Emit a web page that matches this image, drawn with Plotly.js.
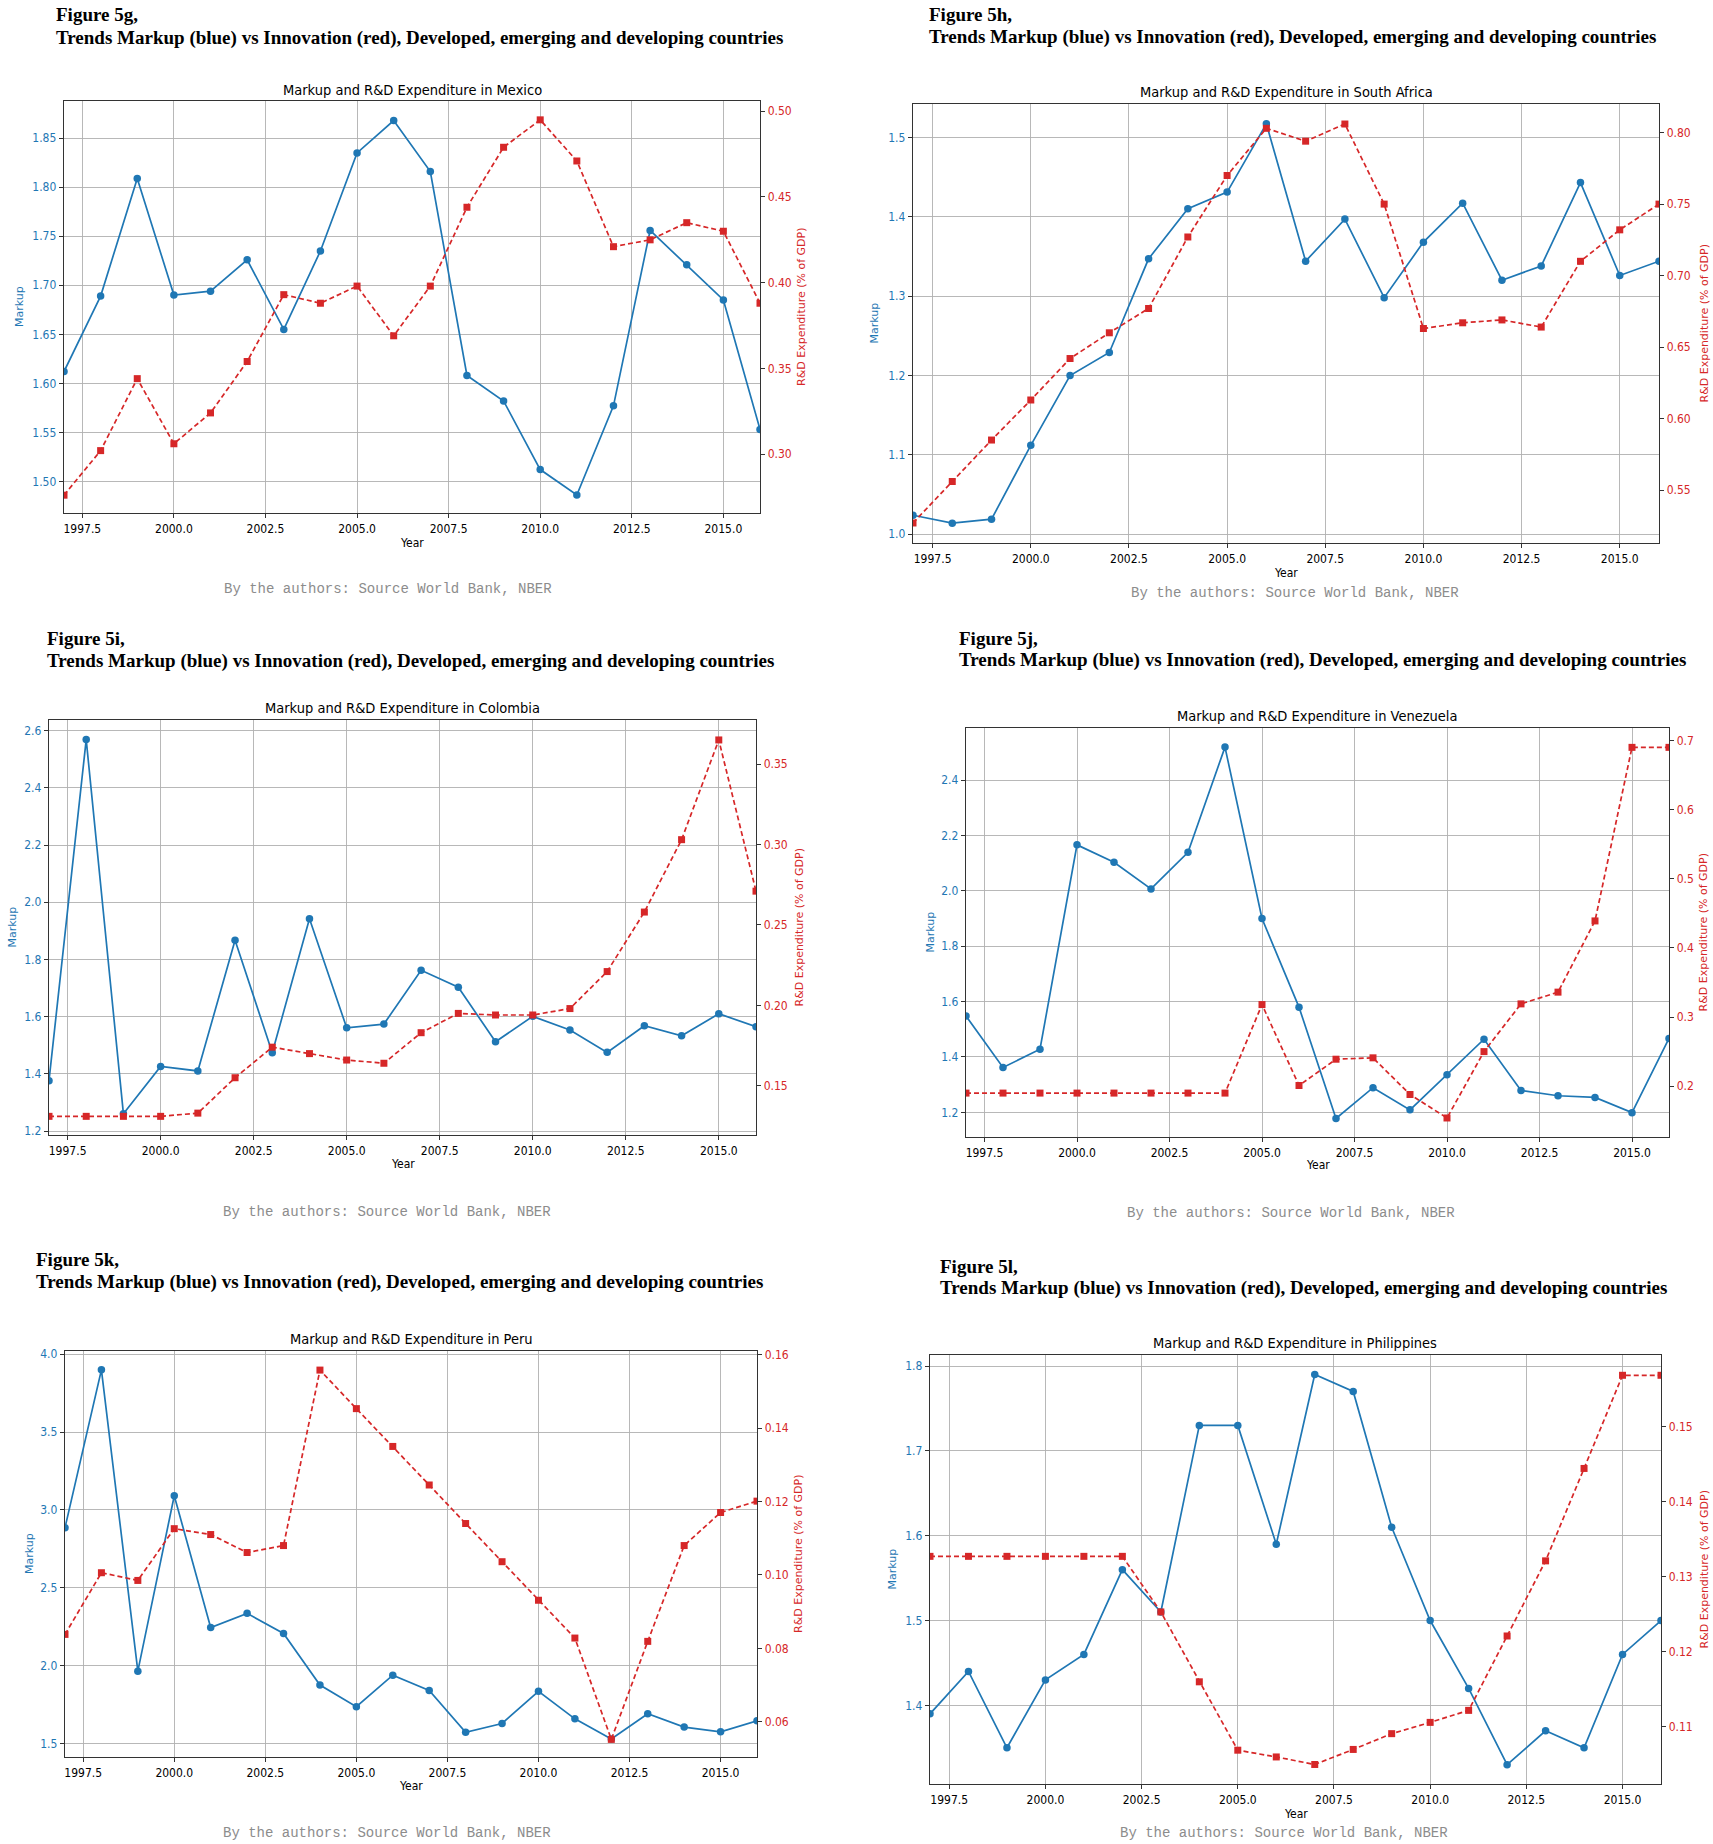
<!DOCTYPE html>
<html>
<head>
<meta charset="utf-8">
<script src="https://cdn.plot.ly/plotly-3.0.1.min.js"></script>
<style>
  body { margin: 0; background: #fff; }
  #graph { width: 1713px; height: 1844px; }
</style>
</head>
<body>
<div id="graph"></div>
<script>
var years = [1997, 1998, 1999, 2000, 2001, 2002, 2003, 2004, 2005, 2006,
             2007, 2008, 2009, 2010, 2011, 2012, 2013, 2014, 2015, 2016];

var markupMexico = [1.612, 1.689, 1.809, 1.690, 1.694, 1.726, 1.655, 1.735, 1.835, 1.868,
                    1.816, 1.608, 1.582, 1.512, 1.486, 1.577, 1.756, 1.721, 1.685, 1.553];
var rdMexico = [0.276, 0.302, 0.344, 0.306, 0.324, 0.354, 0.393, 0.388, 0.398, 0.369,
                0.398, 0.444, 0.479, 0.495, 0.471, 0.421, 0.425, 0.435, 0.430, 0.388];

var markupSouthAfrica = [1.024, 1.014, 1.019, 1.112, 1.200, 1.229, 1.347, 1.410, 1.431, 1.517,
                         1.344, 1.397, 1.298, 1.368, 1.417, 1.320, 1.338, 1.443, 1.326, 1.344];
var rdSouthAfrica = [0.527, 0.556, 0.585, 0.613, 0.642, 0.660, 0.677, 0.727, 0.770, 0.803,
                     0.794, 0.806, 0.750, 0.663, 0.667, 0.669, 0.664, 0.710, 0.732, 0.750];

var markupColombia = [1.376, 2.569, 1.260, 1.426, 1.410, 1.867, 1.474, 1.942, 1.561, 1.574,
                      1.762, 1.703, 1.512, 1.601, 1.553, 1.475, 1.568, 1.533, 1.610, 1.565];
var rdColombia = [0.131, 0.131, 0.131, 0.131, 0.133, 0.155, 0.174, 0.170, 0.166, 0.164,
                  0.183, 0.195, 0.194, 0.194, 0.198, 0.221, 0.258, 0.303, 0.365, 0.271];

var markupVenezuela = [1.548, 1.362, 1.428, 2.166, 2.103, 2.007, 2.139, 2.519, 1.900, 1.580,
                       1.178, 1.289, 1.209, 1.336, 1.464, 1.279, 1.260, 1.254, 1.199, 1.467];
var rdVenezuela = [0.190, 0.190, 0.190, 0.190, 0.190, 0.190, 0.190, 0.190, 0.318, 0.201,
                   0.239, 0.241, 0.188, 0.154, 0.250, 0.319, 0.336, 0.439, 0.690, 0.690];

var markupPeru = [2.886, 3.899, 1.965, 3.091, 2.245, 2.336, 2.207, 1.876, 1.737, 1.939,
                  1.841, 1.573, 1.629, 1.836, 1.659, 1.530, 1.692, 1.606, 1.576, 1.646];
var rdPeru = [0.0838, 0.1006, 0.0985, 0.1126, 0.1110, 0.1061, 0.1080, 0.1558, 0.1453, 0.1350,
              0.1245, 0.1140, 0.1036, 0.0931, 0.0828, 0.0552, 0.0819, 0.1080, 0.1170, 0.1201];

var markupPhilippines = [1.390, 1.440, 1.350, 1.430, 1.460, 1.560, 1.510, 1.730, 1.730, 1.590,
                         1.790, 1.770, 1.610, 1.500, 1.420, 1.330, 1.370, 1.350, 1.460, 1.500];
var rdPhilippines = [0.1327, 0.1327, 0.1327, 0.1327, 0.1327, 0.1327, 0.1253, 0.1160, 0.1069, 0.1060,
                     0.1050, 0.1070, 0.1091, 0.1106, 0.1122, 0.1221, 0.1321, 0.1444, 0.1568, 0.1568];

var countries = ['Mexico', 'South Africa', 'Colombia', 'Venezuela', 'Peru', 'Philippines'];
var figureLabels = ['Figure 5g,', 'Figure 5h,', 'Figure 5i,', 'Figure 5j,', 'Figure 5k,', 'Figure 5l,'];
var subtitle = 'Trends Markup (blue) vs Innovation (red), Developed, emerging and developing countries';
var footer = 'By the authors: Source World Bank, NBER';
var yearTicks = [1997.5, 2000, 2002.5, 2005, 2007.5, 2010, 2012.5, 2015];

var W = 1713, H = 1844;
var BLUE = '#1f77b4', RED = '#d62728';
var NARROW = 'DejaVu Sans Condensed, DejaVu Sans';

// plot boxes and text anchors in pixels, axis ranges per panel
var panels = [
  {markup: markupMexico, rd: rdMexico, box: [64, 760, 101, 513],
   left: [1.4677, 1.888, 0.05, '.2f'], right: [0.2656, 0.506, 0.05, '.2f'],
   head: [54, 15, 38], title: [412, 90], foot: [388, 589], yl: 19, yr: 801, yx: 543},
  {markup: markupSouthAfrica, rd: rdSouthAfrica, box: [913, 1659, 104, 543],
   left: [0.989, 1.542, 0.1, '.1f'], right: [0.513, 0.820, 0.05, '.2f'],
   head: [927, 15, 37], title: [1286, 92], foot: [1295, 593], yl: 874, yr: 1704, yx: 573},
  {markup: markupColombia, rd: rdColombia, box: [49, 756, 720, 1135],
   left: [1.186, 2.6375, 0.2, '.1f'], right: [0.1194, 0.3774, 0.05, '.2f'],
   head: [45, 638, 661], title: [402, 708], foot: [387, 1212], yl: 12, yr: 799, yx: 1164},
  {markup: markupVenezuela, rd: rdVenezuela, box: [966, 1669, 728, 1137],
   left: [1.111, 2.588, 0.2, '.1f'], right: [0.1265, 0.718, 0.1, '.1f'],
   head: [957, 638, 660], title: [1317, 716], foot: [1291, 1213], yl: 930, yr: 1703, yx: 1165},
  {markup: markupPeru, rd: rdPeru, box: [65, 757, 1351, 1757],
   left: [1.414, 4.020, 0.5, '.1f'], right: [0.0504, 0.161, 0.02, '.2f'],
   head: [34, 1259, 1282], title: [411, 1339], foot: [387, 1833], yl: 29, yr: 798, yx: 1786},
  {markup: markupPhilippines, rd: rdPhilippines, box: [930, 1661, 1355, 1784],
   left: [1.3073, 1.813, 0.1, '.1f'], right: [0.1024, 0.1595, 0.01, '.2f'],
   head: [938, 1266, 1288], title: [1295, 1343], foot: [1284, 1833], yl: 892, yr: 1704, yx: 1814}
];

function px(x) { return x / W; }
function py(y) { return 1 - y / H; }

var data = [];
var layout = {
  width: W, height: H,
  margin: {l: 0, r: 0, t: 0, b: 0},
  paper_bgcolor: '#fff', plot_bgcolor: '#fff',
  showlegend: false,
  font: {family: 'DejaVu Sans', size: 11, color: '#000'},
  annotations: []
};

function note(text, x, y, opts) {
  var a = {text: text, x: px(x), y: py(y), xref: 'paper', yref: 'paper',
           xanchor: 'center', yanchor: 'middle', showarrow: false,
           font: {family: 'DejaVu Sans', size: 11, color: '#000'}};
  for (var k in opts) a[k] = opts[k];
  layout.annotations.push(a);
}

for (var i = 0; i < panels.length; i++) {
  var p = panels[i];
  var n = i + 1, m = i + 7;
  var xa = 'x' + n, ya = 'y' + n, yb = 'y' + m;

  layout['xaxis' + n] = {
    domain: [px(p.box[0]), px(p.box[1])], anchor: ya,
    range: [1997, 2016], tickvals: yearTicks, tickformat: '.1f',
    ticks: 'outside', ticklen: 4, tickwidth: 0.8, tickcolor: '#000',
    showline: true, mirror: true, linecolor: '#333', linewidth: 1.3,
    showgrid: true, gridcolor: '#b0b0b0', gridwidth: 0.9, zeroline: false,
    tickfont: {family: NARROW, size: 12, color: '#000'}
  };
  layout['yaxis' + n] = {
    domain: [py(p.box[3]), py(p.box[2])], anchor: xa,
    range: [p.left[0], p.left[1]], tick0: 0, dtick: p.left[2], tickformat: p.left[3],
    ticks: 'outside', ticklen: 4, tickwidth: 0.8, tickcolor: '#000',
    showline: true, linecolor: '#333', linewidth: 1.3,
    showgrid: true, gridcolor: '#b0b0b0', gridwidth: 0.9, zeroline: false,
    tickfont: {family: NARROW, size: 12, color: BLUE}
  };
  layout['yaxis' + m] = {
    overlaying: ya, side: 'right', anchor: xa,
    range: [p.right[0], p.right[1]], tick0: 0, dtick: p.right[2], tickformat: p.right[3],
    ticks: 'outside', ticklen: 4, tickwidth: 0.8, tickcolor: '#000',
    showline: true, linecolor: '#333', linewidth: 1.3,
    showgrid: false, zeroline: false,
    tickfont: {family: NARROW, size: 12, color: RED}
  };

  data.push({
    x: years, y: p.markup, xaxis: xa, yaxis: ya,
    type: 'scatter', mode: 'lines+markers', name: 'Markup',
    line: {color: BLUE, width: 1.7},
    marker: {color: BLUE, size: 7.5, symbol: 'circle'}
  });
  data.push({
    x: years, y: p.rd, xaxis: xa, yaxis: yb,
    type: 'scatter', mode: 'lines+markers', name: 'R&D Expenditure',
    line: {color: RED, width: 1.7, dash: '5px,3px'},
    marker: {color: RED, size: 7, symbol: 'square'}
  });

  note(figureLabels[i], p.head[0], p.head[1],
       {xanchor: 'left', font: {family: 'Liberation Serif', size: 19, weight: 'bold', color: '#000'}});
  note(subtitle, p.head[0], p.head[2],
       {xanchor: 'left', font: {family: 'Liberation Serif', size: 19, weight: 'bold', color: '#000'}});
  note('Markup and R&amp;D Expenditure in ' + countries[i], p.title[0], p.title[1],
       {font: {family: NARROW, size: 14.5, color: '#000'}});
  note('Markup', p.yl, (p.box[2] + p.box[3]) / 2,
       {textangle: -90, font: {family: 'DejaVu Sans', size: 11, color: BLUE}});
  note('R&amp;D Expenditure (% of GDP)', p.yr, (p.box[2] + p.box[3]) / 2,
       {textangle: -90, font: {family: 'DejaVu Sans', size: 11, color: RED}});
  note('Year', (p.box[0] + p.box[1]) / 2, p.yx, {font: {family: NARROW, size: 12, color: '#000'}});
  note(footer, p.foot[0], p.foot[1],
       {font: {family: 'Liberation Mono', size: 14, color: '#8c8c8c'}});
}

Plotly.newPlot('graph', data, layout, {staticPlot: true});
</script>
</body>
</html>
